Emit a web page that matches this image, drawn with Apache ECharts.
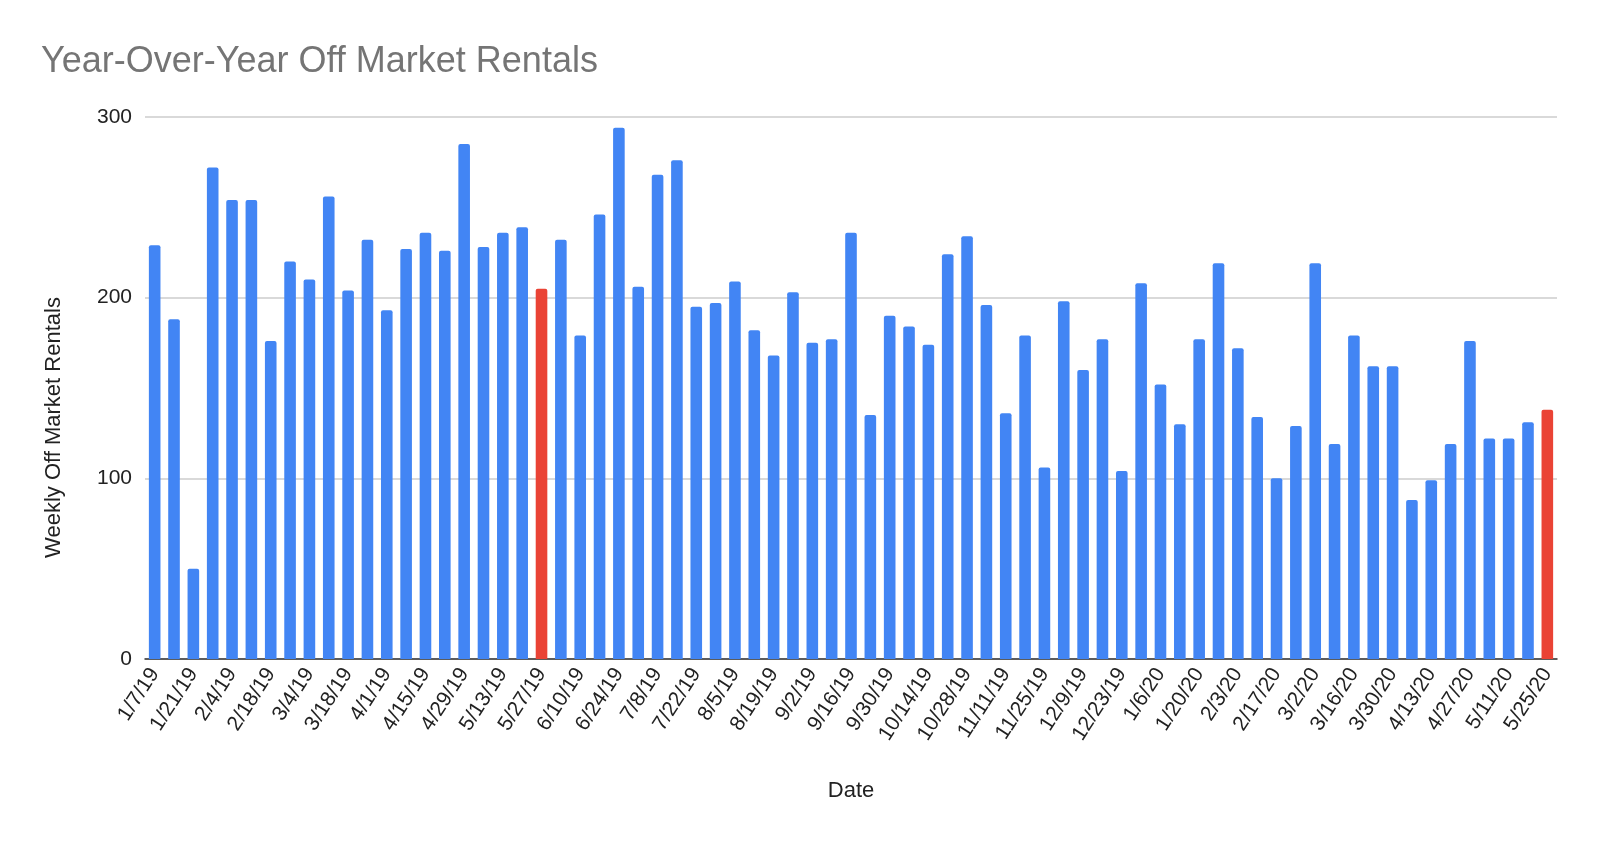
<!DOCTYPE html>
<html>
<head>
    <meta charset="utf-8">
    <title>Year-Over-Year Off Market Rentals</title>
    <script src="https://cdnjs.cloudflare.com/ajax/libs/echarts/6.0.0/echarts.min.js"></script>
    <style>
        html, body { margin: 0; padding: 0; background: #fff; }
    </style>
</head>
<body>
    <div id="main" style="width: 1600px;height:845px;"></div>
    <script type="text/javascript">
        // weekly dates (Mondays), 1/7/19 .. 5/25/20
        var dates = [
            '1/7/19', '1/14/19', '1/21/19', '1/28/19', '2/4/19', '2/11/19', '2/18/19', '2/25/19',
            '3/4/19', '3/11/19', '3/18/19', '3/25/19', '4/1/19', '4/8/19', '4/15/19', '4/22/19',
            '4/29/19', '5/6/19', '5/13/19', '5/20/19', '5/27/19', '6/3/19', '6/10/19', '6/17/19',
            '6/24/19', '7/1/19', '7/8/19', '7/15/19', '7/22/19', '7/29/19', '8/5/19', '8/12/19',
            '8/19/19', '8/26/19', '9/2/19', '9/9/19', '9/16/19', '9/23/19', '9/30/19', '10/7/19',
            '10/14/19', '10/21/19', '10/28/19', '11/4/19', '11/11/19', '11/18/19', '11/25/19', '12/2/19',
            '12/9/19', '12/16/19', '12/23/19', '12/30/19',
            '1/6/20', '1/13/20', '1/20/20', '1/27/20', '2/3/20', '2/10/20', '2/17/20', '2/24/20',
            '3/2/20', '3/9/20', '3/16/20', '3/23/20', '3/30/20', '4/6/20', '4/13/20', '4/20/20',
            '4/27/20', '5/4/20', '5/11/20', '5/18/20', '5/25/20'
        ];

        // weekly off market rentals
        var rentals = [
            229, 188, 50, 272, 254, 254, 176, 220,
            210, 256, 204, 232, 193, 227, 236, 226,
            285, 228, 236, 239, 205, 232, 179, 246,
            294, 206, 268, 276, 195, 197, 209, 182,
            168, 203, 175, 177, 236, 135, 190, 184,
            174, 224, 234, 196, 136, 179, 106, 198,
            160, 177, 104, 208,
            152, 130, 177, 219, 172, 134, 100, 129,
            219, 119, 179, 162, 162, 88, 99, 119,
            176, 122, 122, 131, 138
        ];

        // the two weeks compared year over year
        var highlighted = ['5/27/19', '5/25/20'];

        var yTicks = [0, 100, 200, 300];

        var BLUE = '#4285F4';
        var RED = '#EA4335';
        var FONT = "'Liberation Sans', Arial, sans-serif";

        var myChart = echarts.init(document.getElementById('main'));

        var barData = [];
        for (var i = 0; i < rentals.length; i++) {
            barData.push({
                value: rentals[i],
                itemStyle: { color: highlighted.indexOf(dates[i]) >= 0 ? RED : BLUE }
            });
        }

        var option = {
            animation: false,
            textStyle: { fontFamily: FONT },
            title: {
                text: 'Year-Over-Year Off Market Rentals',
                left: 36,
                top: 39,
                textStyle: {
                    color: '#757575',
                    fontSize: 36,
                    fontWeight: 'normal',
                    fontFamily: FONT
                }
            },
            grid: {
                left: 145,
                right: 43,
                top: 117,
                bottom: 186
            },
            xAxis: {
                type: 'category',
                data: dates,
                name: 'Date',
                nameLocation: 'middle',
                nameGap: 121,
                nameTextStyle: { color: '#222', fontSize: 22, fontFamily: FONT },
                axisLine: { lineStyle: { color: '#333', width: 1.5 } },
                axisTick: { show: false },
                axisLabel: {
                    interval: 1,
                    rotate: 57,
                    margin: 11,
                    color: '#222',
                    fontSize: 21,
                    fontFamily: FONT
                }
            },
            yAxis: {
                type: 'value',
                min: yTicks[0],
                max: yTicks[yTicks.length - 1],
                interval: 100,
                name: 'Weekly Off Market Rentals',
                nameLocation: 'middle',
                nameGap: 80,
                // name sits a bit below the plot's middle in the original
                nameTextStyle: { color: '#222', fontSize: 22, fontFamily: FONT, padding: [0, 79, 0, 0] },
                axisLine: { show: false },
                axisTick: { show: false },
                axisLabel: { color: '#222', fontSize: 21, margin: 13, fontFamily: FONT },
                splitLine: { lineStyle: { color: '#cccccc', width: 1.5 } }
            },
            series: [{
                type: 'bar',
                data: barData,
                barWidth: '60%',
                itemStyle: { borderRadius: [2, 2, 0, 0] }
            }]
        };

        myChart.setOption(option);
    </script>
</body>
</html>
